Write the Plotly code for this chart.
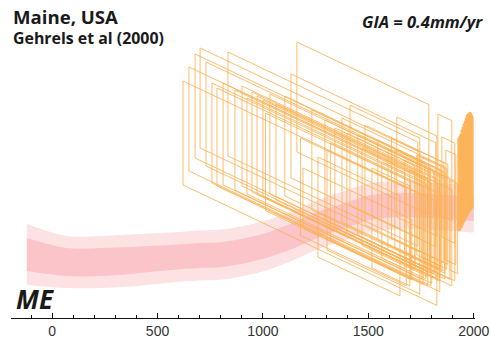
import plotly.graph_objects as go

GIA_RATE = 0.4  # mm/yr, used to detrend the index points

# Reconstruction band (detrended sea level, mm)
band_years = [-120, 70, 230, 370, 560, 700, 810, 940, 1030, 1150, 1270, 1390, 1510, 1650, 1790, 1930, 2000]
band_mid = [-46, -76, -76, -70, -58, -50, -46, -26, -6, 32, 76, 110, 142, 152, 148, 140, 136]
band_inner = [66, 56, 56, 54, 50, 50, 50, 50, 50, 52, 52, 50, 50, 48, 48, 48, 48]
band_outer = [122, 104, 104, 104, 100, 100, 100, 100, 100, 98, 98, 98, 98, 94, 94, 94, 94]

# Salt-marsh index points: age range and detrended elevation range at the older age (mm)
box_age_old = [621, 649, 678, 702, 730, 758, 782, 811, 834, 867, 901, 924, 948, 972, 1000,
               1033, 1062, 1104, 1133, 1161, 1190, 1232, 1261, 1304, 1294, 1341, 1375, 1413,
               1450, 1484, 1517, 1545, 1564, 1593, 1626, 1635, 1673, 1697, 1730, 1754, 1782,
               1830, 1849, 1868, 1887, 1012, 1178, 1320, 1398, 1470, 1610]
box_age_young = [1825, 1796, 1768, 1744, 1811, 1782, 1839, 1754, 1735, 1801, 1820, 1773, 1839, 1721, 1830,
                 1792, 1763, 1849, 1820, 1787, 1706, 1863, 1650, 1744, 1839, 1792, 1863, 1744,
                 1815, 1877, 1697, 1839, 1673, 1887, 1792, 1825, 1863, 1896, 1872, 1844, 1910,
                 1896, 1910, 1915, 1924, 1700, 1680, 1760, 1720, 1780, 1858]
box_top = [648, 704, 756, 780, 724, 640, 620, 640, 764, 612, 628, 580, 604, 588, 572,
           596, 556, 588, 676, 804, 300, 532, 344, 372, 492, 460, 500, 552,
           432, 472, 300, 412, 324, 372, 372, 504, 332, 292, 352, 344, 300,
           516, 424, 372, 252, 520, 420, 400, 440, 380, 420]
box_bottom = [232, 288, 340, 380, 308, 240, 228, 232, 348, 212, 228, 196, 204, 196, 188,
              196, 172, 188, 260, 364, 60, 132, -56, -28, 92, 60, 84, 152,
              32, 72, -100, 12, -60, -28, -20, 104, -68, -92, -48, -56, -100,
              116, 24, -68, -108, 130, 30, 10, 40, -10, 20]

# Recent, narrow-age index points
thin_age_old = [1925, 1930, 1935, 1940, 1945, 1950, 1955, 1960, 1965, 1970, 1975, 1980, 1985, 1990]
thin_age_young = [1933, 1938, 1943, 1948, 1953, 1958, 1963, 1968, 1973, 1978, 1983, 1988, 1993, 1997]
thin_top = [420, 428, 436, 452, 464, 476, 488, 500, 512, 516, 520, 524, 516, 508]
thin_bottom = [52, 56, 62, 70, 78, 88, 96, 104, 112, 120, 128, 134, 140, 144]

tick_vals = [0, 500, 1000, 1500, 2000]
tick_text = ["0", "500", "1000", "1500", "2000"]


def boxes(old, young, top, bottom):
    xs, ys = [], []
    for a1, a2, t, b in zip(old, young, top, bottom):
        d = GIA_RATE * (a2 - a1)
        xs += [a1, a2, a2, a1, a1, None]
        ys += [t, t - d, b - d, b, t, None]
    return xs, ys


fig = go.Figure()

# outer band
fig.add_trace(go.Scatter(x=band_years, y=[m - o for m, o in zip(band_mid, band_outer)],
                         mode="lines", line=dict(width=0, shape="spline"), hoverinfo="skip",
                         showlegend=False))
fig.add_trace(go.Scatter(x=band_years, y=[m + o for m, o in zip(band_mid, band_outer)],
                         mode="lines", line=dict(width=0, shape="spline"), fill="tonexty",
                         fillcolor="rgb(253,226,228)", hoverinfo="skip", showlegend=False))
# inner band
fig.add_trace(go.Scatter(x=band_years, y=[m - i for m, i in zip(band_mid, band_inner)],
                         mode="lines", line=dict(width=0, shape="spline"), hoverinfo="skip",
                         showlegend=False))
fig.add_trace(go.Scatter(x=band_years, y=[m + i for m, i in zip(band_mid, band_inner)],
                         mode="lines", line=dict(width=0, shape="spline"), fill="tonexty",
                         fillcolor="rgb(251,196,200)", hoverinfo="skip", showlegend=False))

bx, by = boxes(box_age_old, box_age_young, box_top, box_bottom)
fig.add_trace(go.Scatter(x=bx, y=by, mode="lines",
                         line=dict(color="rgba(252,178,85,0.85)", width=1),
                         hoverinfo="skip", showlegend=False))

tx, ty = boxes(thin_age_old, thin_age_young, thin_top, thin_bottom)
fig.add_trace(go.Scatter(x=tx, y=ty, mode="lines", fill="toself",
                         fillcolor="rgba(252,182,92,0.9)",
                         line=dict(color="rgb(252,180,90)", width=1),
                         hoverinfo="skip", showlegend=False))

PH = 318.0


def py(p):
    return 1 - p / PH


fig.add_annotation(text="<b>Maine, USA</b>", xref="paper", yref="paper",
                   x=0.0, y=py(16.5), xanchor="left", yanchor="middle", showarrow=False,
                   font=dict(family="Open Sans", size=18.6, color="#1a1a1a"))
fig.add_annotation(text="<b>Gehrels et al (2000)</b>", xref="paper", yref="paper",
                   x=0.0, y=py(38), xanchor="left", yanchor="middle", showarrow=False,
                   font=dict(family="Open Sans", size=15.9, color="#1a1a1a"))
fig.add_annotation(text="<b><i>GIA = 0.4mm/yr</i></b>", xref="paper", yref="paper",
                   x=(485 - 11) / 464.0, y=py(22), xanchor="right", yanchor="middle",
                   showarrow=False, font=dict(family="Open Sans", size=16.5, color="#1a1a1a"))
fig.add_annotation(text="<b><i>ME</i></b>", xref="paper", yref="paper",
                   x=(14 - 11) / 464.0, y=py(299), xanchor="left", yanchor="middle",
                   showarrow=False, font=dict(family="Open Sans", size=26, color="#1a1a1a"))

fig.update_layout(
    width=491, height=342,
    margin=dict(l=11, r=16, t=0, b=24),
    paper_bgcolor="white", plot_bgcolor="white",
    xaxis=dict(range=[-195, 2006], showgrid=False, zeroline=False,
               showline=True, linecolor="#111", linewidth=1.2,
               ticks="inside", ticklen=5, tickwidth=1, tickcolor="#111",
               tickvals=tick_vals, ticktext=tick_text,
               tickfont=dict(family="Liberation Sans", size=14, color="#333"),
               minor=dict(ticks="inside", ticklen=3, tickwidth=1, tickcolor="#111", dtick=100,
                          tick0=0),
               fixedrange=True),
    yaxis=dict(range=[-300, 972], visible=False, fixedrange=True),
)

fig.write_html("out.html")
